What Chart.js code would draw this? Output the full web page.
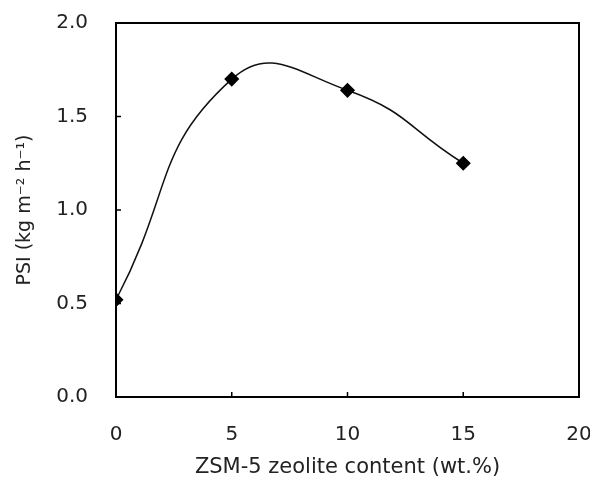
<!DOCTYPE html>
<html lang="en">
<head>
    <meta charset="UTF-8">
    <title>PSI vs ZSM-5 content</title>
    <script src="https://cdn.jsdelivr.net/npm/chart.js"></script>
    <style>
        html, body { margin: 0; padding: 0; background: #fff; }
        #wrap { width: 590px; height: 480px; }
    </style>
</head>
<body>
    <div id="wrap"><canvas id="psiChart"></canvas></div>

    <script>
        // data
        const zeoliteContent = [0, 5, 10, 15];
        const psiValues = [0.52, 1.70, 1.64, 1.25];
        const xTicks = [0, 5, 10, 15, 20];
        const yTicks = [0, 0.5, 1.0, 1.5, 2.0];

        const points = zeoliteContent.map((x, i) => ({ x: x, y: psiValues[i] }));

        // box round the plot area plus small inward tick marks
        const frame = {
            id: "frame",
            afterDraw(chart) {
                const ctx = chart.ctx;
                const a = chart.chartArea;
                const xs = chart.scales.x, ys = chart.scales.y;
                ctx.save();
                ctx.strokeStyle = "#000";
                ctx.lineWidth = 2;
                ctx.strokeRect(a.left, a.top, a.right - a.left, a.bottom - a.top);
                ctx.lineWidth = 1.5;
                ctx.beginPath();
                xTicks.forEach(v => {
                    const px = xs.getPixelForValue(v);
                    ctx.moveTo(px, a.bottom);
                    ctx.lineTo(px, a.bottom - 5);
                });
                yTicks.forEach(v => {
                    const py = ys.getPixelForValue(v);
                    ctx.moveTo(a.left, py);
                    ctx.lineTo(a.left + 5, py);
                });
                ctx.stroke();
                ctx.restore();
            }
        };

        const tickFont = { family: "DejaVu Sans", size: 20 };

        new Chart(document.getElementById("psiChart"), {
            type: "scatter",
            data: {
                datasets: [{
                    data: points,
                    showLine: true,
                    tension: 0.5,
                    borderColor: "#111",
                    borderWidth: 1.5,
                    pointStyle: "rectRot",
                    pointRadius: 6.5,
                    pointBackgroundColor: "#000",
                    pointBorderColor: "#000"
                }]
            },
            options: {
                responsive: true,
                maintainAspectRatio: false,
                animation: false,
                layout: { padding: { top: 23, right: 11, left: 0, bottom: 0 } },
                plugins: {
                    legend: { display: false },
                    tooltip: { enabled: false }
                },
                scales: {
                    x: {
                        type: "linear",
                        min: 0,
                        max: 20,
                        afterBuildTicks: s => { s.ticks = xTicks.map(v => ({ value: v })); },
                        afterFit: s => { s.height = 83; s.paddingLeft = 0; s.paddingRight = 0; },
                        grid: { display: false, drawTicks: false },
                        border: { display: false },
                        ticks: { color: "#222", font: tickFont, padding: 26 },
                        title: {
                            display: true,
                            text: "ZSM-5 zeolite content (wt.%)",
                            color: "#222",
                            font: { family: "DejaVu Sans", size: 21 },
                            padding: { top: 4, bottom: 0 }
                        }
                    },
                    y: {
                        min: 0,
                        max: 2,
                        afterBuildTicks: s => { s.ticks = yTicks.map(v => ({ value: v })); },
                        afterFit: s => { s.width = 116; s.paddingTop = 0; s.paddingBottom = 0; },
                        grid: { display: false, drawTicks: false },
                        border: { display: false },
                        ticks: {
                            color: "#222",
                            font: tickFont,
                            padding: 28,
                            callback: v => Number(v).toFixed(1)
                        },
                        title: {
                            display: true,
                            text: "PSI (kg m\u207B\u00B2 h\u207B\u00B9)",
                            color: "#222",
                            font: { family: "DejaVu Sans", size: 19 },
                            padding: { top: 14, bottom: 0 }
                        }
                    }
                }
            },
            plugins: [frame]
        });
    </script>
</body>
</html>
